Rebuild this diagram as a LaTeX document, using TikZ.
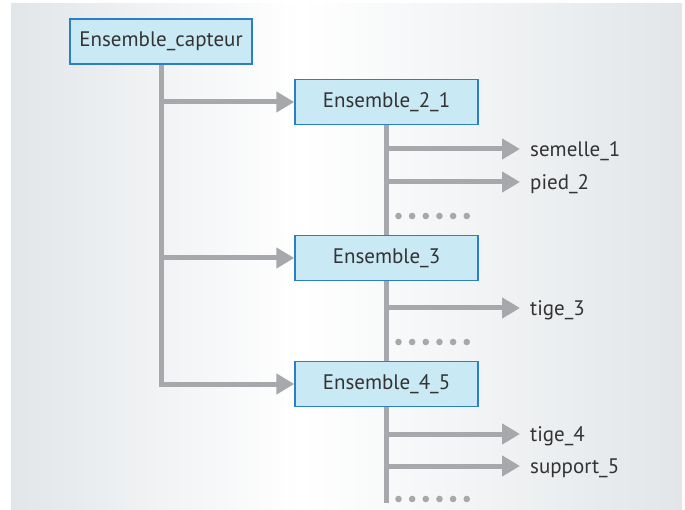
\documentclass[tikz,border=0pt]{standalone}
\usepackage{fontspec}
\setmainfont{PT Sans}
\usetikzlibrary{arrows.meta}
\definecolor{panelgrey}{HTML}{E2E6E9}
\definecolor{boxfill}{HTML}{C9E9F4}
\definecolor{boxline}{HTML}{2A7FC7}
\definecolor{linkgrey}{HTML}{A7A8AB}
\definecolor{txt}{HTML}{333333}
\tikzset{
  box/.style={draw=boxline, line width=1.4pt, fill=boxfill, text=txt,
    minimum height=45pt, inner sep=0pt, font=\fontsize{21}{24}\selectfont},
  leaf/.style={anchor=west, inner sep=0pt, text=txt, text height=15pt, text depth=0pt,
    font=\fontsize{21}{24}\selectfont},
  trunk/.style={draw=linkgrey, line width=5pt},
  branch/.style={trunk, -{Triangle[length=18pt, width=20pt]}},
  dotc/.style={fill=linkgrey}
}
\begin{document}
\begin{tikzpicture}[x=1pt, y=-1pt]
  % page and shaded panel
  \useasboundingbox (0,0) rectangle (685,510);
  \fill[white] (0,0) rectangle (685,510);
  \shade[left color=panelgrey, right color=white] (11,4) rectangle (300,509);
  \shade[left color=white, right color=panelgrey] (300,4) rectangle (682,509);

  % assemblies
  \node[box, minimum width=182pt] (cap) at (161,41.5) {Ensemble\_capteur};
  \node[box, minimum width=183pt] (e21) at (386.5,102) {Ensemble\_2\_1};
  \node[box, minimum width=183pt] (e3)  at (386.5,258) {Ensemble\_3};
  \node[box, minimum width=183pt] (e45) at (386.5,384) {Ensemble\_4\_5};

  % parts
  \node[leaf] (s1) at (530,149) {semelle\_1};
  \node[leaf] (p2) at (530,182) {pied\_2};
  \node[leaf] (t3) at (530,308) {tige\_3};
  \node[leaf] (t4) at (530,434) {tige\_4};
  \node[leaf] (s5) at (530,466) {support\_5};
  \coordinate (tail) at (386.5,503);

  % main tree
  \draw[branch] (cap.south) |- (e45.west);
  \draw[branch] (cap.south |- e21.west) -- (e21.west);
  \draw[branch] (cap.south |- e3.west) -- (e3.west);

  % sub-trees
  \draw[trunk] (e21.south) -- (e3.north);
  \draw[trunk] (e3.south) -- (e45.north);
  \draw[trunk] (e45.south) -- (tail);
  \foreach \p in {s1,p2}
    \draw[branch] (e21.south |- \p.west) -- ([xshift=-10pt]\p.west);
  \draw[branch] (e3.south |- t3.west) -- ([xshift=-10pt]t3.west);
  \foreach \p in {t4,s5}
    \draw[branch] (e45.south |- \p.west) -- ([xshift=-10pt]\p.west);

  % continuation dots
  \foreach \y in {216,342,499}
    \foreach \k in {0,...,5}
      \fill[dotc] (398.5+13.65*\k, \y) circle (3.3pt);
\end{tikzpicture}
\end{document}
